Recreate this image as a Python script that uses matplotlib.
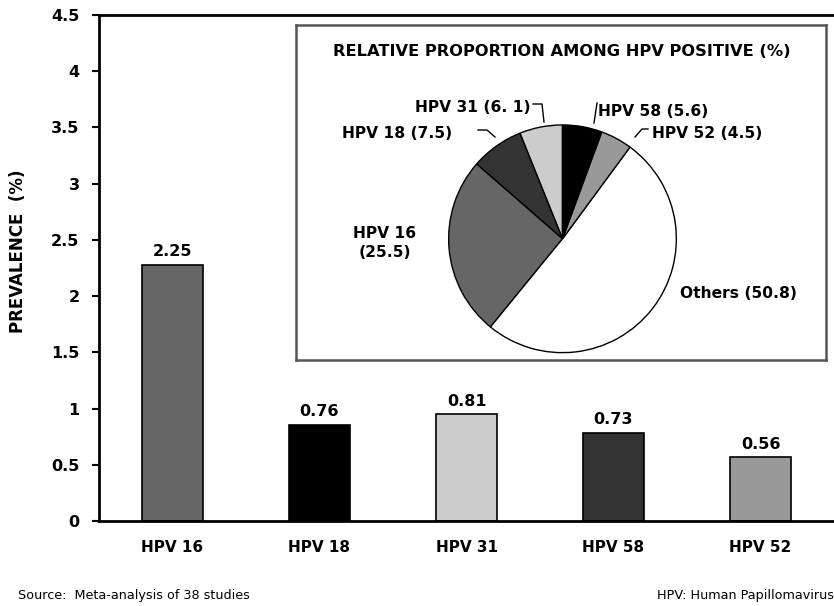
import matplotlib
matplotlib.use("Agg")
import matplotlib.pyplot as plt
from matplotlib.lines import Line2D

plt.rcParams['font.family'] = ['DejaVu Sans']

# bar chart data
types = ["HPV 16", "HPV 18", "HPV 31", "HPV 58", "HPV 52"]
heights = [2.28, 0.855, 0.95, 0.785, 0.565]
value_labels = ["2.25", "0.76", "0.81", "0.73", "0.56"]
bar_colors = ["#666666", "#000000", "#cccccc", "#333333", "#999999"]

# pie data (counter-clockwise from top)
pie_labels = ["HPV 31 (6. 1)", "HPV 18 (7.5)", "HPV 16\n(25.5)", "Others (50.8)",
              "HPV 52 (4.5)", "HPV 58 (5.6)"]
pie_values = [6.1, 7.5, 25.5, 50.8, 4.5, 5.6]
pie_colors = ["#cccccc", "#333333", "#666666", "#ffffff", "#999999", "#000000"]

W, H = 834, 606
fig = plt.figure(figsize=(W / 100, H / 100), dpi=100)


def px(x, y):
    return x / W, 1 - y / H


def box(x0, y0, x1, y1):
    return [x0 / W, 1 - y1 / H, (x1 - x0) / W, (y1 - y0) / H]


# main bar axes
ax = fig.add_axes(box(99, 15, 834, 521))
xs = range(len(types))
ax.bar(xs, heights, width=0.415, color=bar_colors, edgecolor="black", linewidth=1.2, zorder=2)
for x, h, lab in zip(xs, heights, value_labels):
    ax.annotate(lab, (x, h), xytext=(0, 13), textcoords="offset pixels",
                ha="center", va="center", fontsize=11.5, fontweight="bold")
ax.set_xlim(-0.5, 4.5)
ax.set_ylim(0, 4.5)
ax.set_yticks([0, 0.5, 1, 1.5, 2, 2.5, 3, 3.5, 4, 4.5])
ax.set_yticklabels(["0", "0.5", "1", "1.5", "2", "2.5", "3", "3.5", "4", "4.5"])
ax.set_xticks(list(xs))
ax.set_xticklabels(types)
ax.tick_params(axis="x", length=0, pad=14, labelsize=11)
ax.tick_params(axis="y", length=5, width=1.5, pad=9, labelsize=11.5)
for t in ax.get_xticklabels() + ax.get_yticklabels():
    t.set_fontweight("bold")
ax.spines["right"].set_visible(False)
for s in ["left", "bottom", "top"]:
    ax.spines[s].set_linewidth(2)

fig.text(*px(18, 251), "PREVALENCE  (%)", rotation=90, ha="center", va="center",
         fontsize=12, fontweight="bold")

# inset box
bx = fig.add_axes(box(296, 25, 826, 360))
bx.set_xticks([])
bx.set_yticks([])
for s in bx.spines.values():
    s.set_color("#555555")
    s.set_linewidth(1.8)
fig.text(*px(562, 52), "RELATIVE PROPORTION AMONG HPV POSITIVE (%)", ha="center", va="center",
         fontsize=11.7, fontweight="bold")

# pie
pa = fig.add_axes(box(447.5, 123.8, 677.5, 353.8))
pa.pie(pie_values, colors=pie_colors, startangle=90, counterclock=True, radius=1,
       wedgeprops=dict(edgecolor="black", linewidth=1))
pa.set_xlim(-1.01, 1.01)
pa.set_ylim(-1.01, 1.01)
pa.set_axis_off()

# pie labels: (x, y, ha) in pixels
label_pos = [(531, 108, "right"), (452, 133, "right"), (385, 243, "center"),
             (680, 293, "left"), (652, 133, "left"), (598, 112, "left")]
for lab, (x, y, ha) in zip(pie_labels, label_pos):
    fig.text(*px(x, y), lab, ha=ha, va="center", fontsize=11.2, fontweight="bold",
             linespacing=1.3, multialignment="center")

leaders = [
    [(533, 104), (542, 104), (544, 122)],
    [(478, 130), (487, 130), (495, 137)],
    [(597, 103), (594, 123)],
    [(648, 129), (642, 129), (635, 137)],
]
for pts in leaders:
    fx = [px(x, y)[0] for x, y in pts]
    fy = [px(x, y)[1] for x, y in pts]
    fig.add_artist(Line2D(fx, fy, transform=fig.transFigure, color="black", linewidth=1))

# footer
fig.text(*px(18, 595), "Source:  Meta-analysis of 38 studies", ha="left", va="center", fontsize=9.2)
fig.text(*px(657, 595), "HPV: Human Papillomavirus", ha="left", va="center", fontsize=9.2)

fig.savefig("out.png", dpi=100)
